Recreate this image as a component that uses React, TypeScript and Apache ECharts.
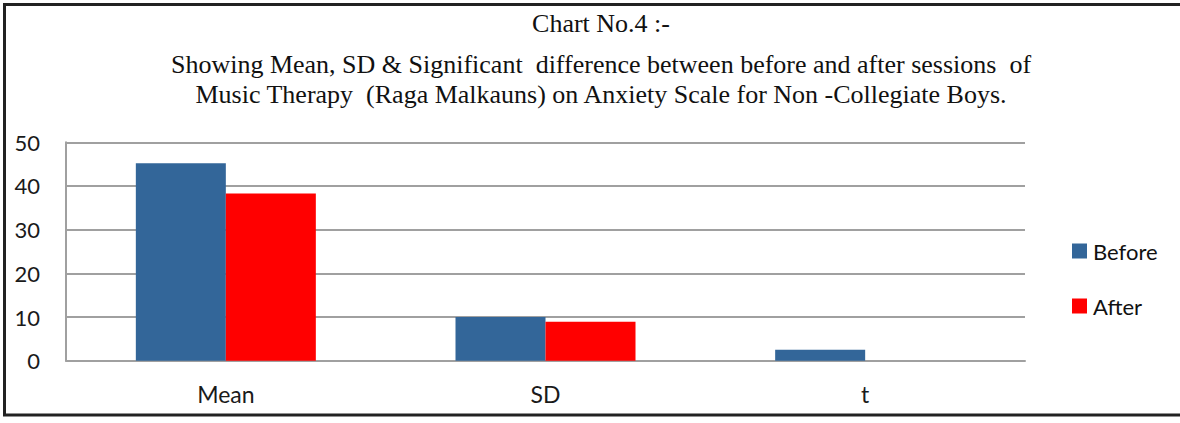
import React, { useEffect, useRef } from "react";
import * as echarts from "echarts";

const categories = ["Mean", "SD", "t"];
const beforeValues = [45.2, 10.0, 2.5];
const afterValues = [38.3, 8.9, 0];
const titleLine1 = "Chart No.4 :-";
const titleLine2 = "Showing Mean, SD & Significant  difference between before and after sessions  of";
const titleLine3 = "Music Therapy  (Raga Malkauns) on Anxiety Scale for Non -Collegiate Boys.";

export default function App() {
  const ref = useRef<HTMLDivElement>(null);
  useEffect(() => {
    document.body.style.margin = "0";
    const chart = echarts.init(ref.current!, null, { renderer: "svg" });
    const sans = "Lato";
    chart.setOption({
      animation: false,
      backgroundColor: "#ffffff",
      title: [
        {
          text: titleLine1,
          left: 596,
          top: 3,
          textAlign: "center",
          textStyle: { fontFamily: "Liberation Serif", fontSize: 26, fontWeight: "normal", color: "#111", lineHeight: 30 },
        },
        {
          text: titleLine2 + "\n" + titleLine3,
          left: 596,
          top: 44,
          textAlign: "center",
          textStyle: { fontFamily: "Liberation Serif", fontSize: 26, fontWeight: "normal", color: "#111", lineHeight: 30 },
        },
      ],
      graphic: [
        {
          type: "polyline",
          shape: { points: [[1180, 4.5], [4.5, 4.5], [4.5, 415], [1180, 415]] },
          style: { fill: "none", stroke: "#222", lineWidth: 3 },
          silent: true,
        },
      ],
      legend: {
        orient: "vertical",
        left: 1067,
        top: 235,
        itemWidth: 15,
        itemHeight: 15,
        itemGap: 33,
        icon: "rect",
        textStyle: { fontFamily: sans, fontSize: 22, color: "#111", padding: [0, 0, 0, 1] },
        data: ["Before", "After"],
      },
      grid: { left: 66, right: 155, top: 142.3, bottom: 62.3, containLabel: false },
      xAxis: {
        type: "category",
        data: categories,
        axisLine: { show: true, lineStyle: { color: "#a0a0a0", width: 2 } },
        axisTick: { show: false },
        axisLabel: { fontFamily: sans, fontSize: 23, color: "#1a1a1a", margin: 22 },
      },
      yAxis: {
        type: "value",
        min: 0,
        max: 50,
        interval: 10,
        axisLine: { show: true, lineStyle: { color: "#a0a0a0", width: 2 } },
        axisTick: { show: false },
        splitLine: { show: true, lineStyle: { color: "#a0a0a0", width: 2 } },
        axisLabel: { fontFamily: sans, fontSize: 22, color: "#1a1a1a", margin: 26 },
      },
      series: [
        {
          name: "Before",
          type: "bar",
          data: beforeValues,
          barWidth: 90,
          barGap: "0%",
          itemStyle: { color: "#336699" },
        },
        {
          name: "After",
          type: "bar",
          data: afterValues,
          barWidth: 90,
          barGap: "0%",
          itemStyle: { color: "#ff0000" },
        },
      ],
    });
    return () => chart.dispose();
  }, []);
  return <div ref={ref} style={{ width: 1180, height: 423 }} />;
}
